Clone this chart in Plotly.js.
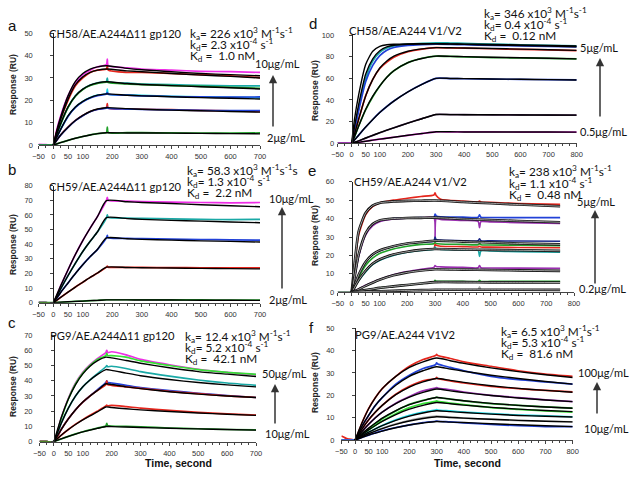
<!DOCTYPE html>
<html><head><meta charset="utf-8">
<script src="https://cdn.plot.ly/plotly-3.0.1.min.js"></script>
<style>html,body{margin:0;padding:0;background:#fff}#chart{width:629px;height:478px}</style>
</head><body><div id="chart"></div>
<script>
// ---------- Panel a : CH58 / AE.A244Δ11 gp120 ----------
const a_t  = [-50,-25,0,10,25,50,75,100,125,150,180,183,186,250,300,400,500,600,700];
const a_magenta = [0.3,0.2,0,6,13,22,28,31.5,33.5,35,36,38.5,35.5,34.5,34,33.5,33,32.8,32.5];
const a_red     = [0,0,0,5,11.5,20,26.5,30,32.5,33.5,34,35.5,33.5,32.5,32.5,32,31.5,31,30.2];
const a_teal    = [0,0,0,4,9.5,17,22,25,26.8,27.8,28.5,30,28.2,27.7,27.3,27,26.7,26.5,26.5];
const a_green   = [0,0,0,4,9.3,16.8,21.8,24.8,26.6,27.6,28.2,28.5,28,27.3,27,26.6,26.2,25.8,25.4];
const a_cyan    = [0,0,0,3,7,13,17,19.5,21.2,22.3,23,25,22.8,22.4,22.2,21.8,21.5,21.3,21.2];
const a_blue    = [0,0,0,3,7,12.8,16.8,19.3,21,22.1,22.8,23.5,22.7,22.3,22,21.7,21.5,21.4,21.5];
const a_red2    = [0,0,0,1.8,4.5,8,11,13.2,15,16,16.8,18.5,16.5,16.2,16,15.8,15.5,15.3,15];
const a_blue2   = [0,0,0,1.8,4.4,7.9,10.9,13.1,14.9,15.9,16.6,17,16.4,16.1,15.9,15.7,15.5,15.4,15.4];
const a_green2  = [0,0,0,0.4,1.1,2.1,3,3.8,4.5,5.1,5.6,8,5.6,5.5,5.5,5.4,5.3,5.3,5.4];
const a_tf = [0,10,25,50,75,100,125,150,180,250,300,400,500,600,700];
const a_f1 = [0,5.5,12.5,22,28.5,32,34,35,35.5,34.3,33.7,32.8,32,31.5,31];
const a_f2 = [0,5,11.5,20.5,27,30.5,32.5,33.5,34,33.2,32.8,32,31.3,30.7,30];
const a_f3 = [0,4,9.5,17,22,25,26.8,27.8,28.3,27.5,27.1,26.6,26.1,25.6,25.1];
const a_f4 = [0,3,7,13,17,19.5,21.2,22.3,22.9,22.3,22,21.6,21.2,20.9,20.6];
const a_f5 = [0,1.8,4.5,8,11,13.3,15,16.1,16.7,16.3,16,15.6,15.3,15,14.7];
const a_f6 = [0,0.4,1.1,2.1,3,3.8,4.5,5.1,5.5,5.4,5.4,5.3,5.2,5.1,5.0];

// ---------- Panel b : CH59 / AE.A244Δ11 gp120 ----------
const b_t = [-50,-25,0,25,50,75,100,125,150,180,183,186,250,300,400,500,600,700];
const b_magenta = [0,0,0,11.5,22.5,33,42.5,51,59,70,72,70,69.5,69.2,68.8,68.5,68.3,68.5];
const b_teal    = [0,0,0,9.5,18.5,27,35,42,48.5,58,60,58.3,57.8,57.6,57.3,57,56.8,57];
const b_blue    = [0,0,0,7,13.5,20,26,31.5,36.5,44.3,46,44.3,44,43.8,43.5,43.2,43,42.8];
const b_red     = [0,0,0,3.6,7.2,10.7,14,17.3,20.3,24.3,25,24.3,24.2,24.1,24,23.9,23.8,23.8];
const b_green   = [0,0,0,0.3,0.6,0.9,1.1,1.4,1.6,2,2,2,2,2,1.9,1.9,1.8,1.8];
const b_tf = [0,25,50,75,100,125,150,180,250,300,400,500,600,700];
const b_f1 = [0,11.5,22.5,33,42.5,51,59,69.8,69,68.5,67.8,67,66.3,65.6];
const b_f2 = [0,9.5,18.5,27,35,42,48.5,58.2,57.5,57,56.3,55.8,55.2,54.7];
const b_f3 = [0,7,13.5,20,26,31.5,36.5,44.3,43.7,43.3,42.8,42.3,41.9,41.5];
const b_f4 = [0,3.6,7.2,10.7,14,17.3,20.3,24.3,24.1,23.9,23.7,23.5,23.3,23.1];
const b_f5 = [0,0.3,0.6,0.9,1.1,1.4,1.6,1.9,1.9,1.8,1.8,1.7,1.7,1.6];

// ---------- Panel c : PG9 / AE.A244Δ11 gp120 ----------
const c_t = [-50,-25,0,25,50,75,100,125,150,180,183,186,200,250,300,400,500,600,700];
const c_magenta = [0,0,0,15.5,28.5,38.5,45.5,50.5,54.5,58.5,60,58.5,59,57,54,50.5,47.5,45.5,44];
const c_green   = [0,0,0,15,28,38,45,50,54,56.5,58,56.5,56.5,55.5,53,50,47.3,45.5,44.2];
const c_teal    = [0,0,0,12,22,30,36,40.5,44.5,49.2,50,49.2,49.5,48,46,43,40.5,38.5,37];
const c_blue    = [0,0,0,8,15,21,26,30,34,38.8,40,38.8,38.5,37,35.5,33.5,31.8,30.3,29];
const c_red     = [0,0,0,8,15,21,26,30,33.5,37.5,40,37.5,37,36,35,33,31.5,30,29];
const c_red2    = [0,0,0,4.2,8,11.5,14.5,17.3,20,23.4,24,23.5,23.8,23,22,20.5,19.3,18.3,17.5];
const c_green2  = [0,0,0,1.8,3.5,5.1,6.5,7.8,8.9,10.3,12,10.5,10.3,10,9.7,9,8.5,8,7.7];
const c_tf = [0,25,50,75,100,125,150,180,200,250,300,400,500,600,700];
const c_f1 = [0,15.5,28,37.5,44.5,49.5,53,55.5,55,53.3,51.5,48.5,46,44.3,42.8];
const c_f2 = [0,12,22,30,36,40.5,44,47.3,46.8,45,43.3,40.8,38.8,37.3,36];
const c_f3 = [0,8,15,21,26,30,33.5,38,37.5,36,34.8,32.8,31.2,30,29];
const c_f4 = [0,4.2,8,11.3,14.3,17,19.5,22.8,22.4,21.6,20.9,19.8,18.8,18,17.3];
const c_f5 = [0,1.8,3.5,5,6.4,7.6,8.7,10,9.9,9.6,9.3,8.8,8.4,8,7.6];

// ---------- Panel d : CH58 / AE.A244 V1/V2 ----------
const d_t = [-50,-25,0,10,25,50,75,100,125,150,200,250,300,350,400,500,600,700,800];
const d_teal   = [0,0,0,13,33,60,76,84,88,90,91.5,92.3,92.8,92.6,92.3,91.6,91,90.5,90];
const d_blue   = [0,0,0,11,30,57,72,81,86,88.5,90.5,91.2,91.5,91.3,91,90.5,90,89.5,89];
const d_red    = [0,0,0,8,22,44,59,69,75,79.5,84.5,87,88.3,88,87.8,87.3,86.7,86.2,85.6];
const d_green  = [0,0,0,6,16,31,43,53,61,67,74.5,78.5,80.5,80.2,79.8,79.2,78.8,78.4,78];
const d_blue2  = [0,0,0,3,7.5,15,22,28.5,34,39,47.5,54.5,60,59.8,59.6,59.3,59,58.8,58.5];
const d_dark   = [0,0,0,0.8,2.2,4.8,7.3,9.8,12,14.3,18.7,22.8,26.6,26.5,26.4,26.3,26.2,26.1,26];
const d_magenta= [0,0,0,0.3,0.9,1.9,2.9,3.8,4.7,5.6,7.4,9,10.6,10.6,10.5,10.5,10.4,10.4,10.3];
const d_tf = [0,10,25,50,75,100,125,150,200,250,300,350,400,500,600,700,800];
const d_f1 = [0,22,45,73,85,89.5,91,91.5,91.8,91.9,92,91.8,91.6,91.2,90.8,90.4,90];
const d_f2 = [0,15,36,64,78,85.5,89,90.5,91.5,91.7,91.8,91.6,91.3,90.8,90.2,89.7,89.2];
const d_f3 = [0,8.5,22.5,44,59,69.5,76,80.5,85,87.2,88.3,88.2,88,87.5,87,86.4,85.8];
const d_f4 = [0,6,16,31.5,43.5,53,61,67,74.5,78.3,80.5,80.3,80,79.5,79,78.5,78];
const d_f5 = [0,3,7.5,15,22,28.5,34,39,47.5,54.5,60,59.9,59.7,59.4,59.1,58.8,58.5];
const d_f6 = [0,0.9,2.3,4.9,7.4,9.8,12.1,14.3,18.6,22.7,26.6,26.5,26.4,26.3,26.2,26.1,26];
const d_f7 = [0,0.35,0.9,1.9,2.9,3.8,4.7,5.6,7.4,9,10.6,10.6,10.5,10.5,10.4,10.4,10.3];

// ---------- Panel e : CH59 / AE.A244 V1/V2 ----------
const e_t = [-50,-25,0,10,25,50,75,100,150,200,250,296,300,304,320,400,455,460,465,500,600,750];
const e_red     = [0,0,0,14,31,42,46.5,48.5,50,51,52,52.8,54,52.5,50.5,49.5,49,49.5,49,48.8,48.2,47.7];
const e_blue    = [0,0,0,8,20,31.5,36.5,38.5,40,40.3,40.5,40.5,42.5,41.5,41,40.8,40.7,42,40.7,40.6,40.5,40.5];
const e_purple  = [0,0,0,7.5,19.5,31,36,38.3,39.8,40.2,40.4,40.3,29,40,39.5,39,38.5,35,38.3,38.2,37.8,37.4];
const e_navy    = [0,0,0,3.5,9,16.5,20.5,22.5,25,26.5,27.3,27.8,30,28.5,28.3,28,28,29,28,27.9,27.8,27.7];
const e_green   = [0,0,0,3,8,14.5,18.5,21,23.5,25,26,26.3,27,26.5,26.2,26,25.8,26.5,25.8,25.7,25.5,25.3];
const e_red2    = [0,0,0,2.5,6.5,11.5,15.5,17.8,20.5,22,23,23.5,26,25.5,25,24.8,24.6,25,24.6,24.5,24.3,24.2];
const e_cyan    = [0,0,0,2.5,6.2,11,15,17.3,20,21.7,22.7,23.3,24.5,23.5,23.3,23,22.8,19.5,22.5,22.4,22,21.8];
const e_purple2 = [0,0,0,0.6,1.8,3.8,5.5,7,9.5,11.2,12.5,13.5,14.5,14,13.8,13.5,13.3,14.5,13.3,13.2,13.1,13];
const e_green2  = [0,0,0,0.2,0.6,1.2,1.8,2.4,3.2,4,4.8,5.5,6.5,6,6,5.9,5.9,6.5,5.9,5.9,5.9,5.9];
const e_low     = [0,0,0,0.1,0.2,0.4,0.5,0.6,0.8,1,1.2,1.4,1.4,1.4,1.4,1.4,1.4,3,1.4,1.4,1.4,1.4];
const e_tf = [0,10,25,50,75,100,150,200,250,300,400,500,600,750];
const e_f1 = [0,15,33,43,47,48.5,49.3,49.6,49.7,49.8,49,48.3,47.6,46.7];
const e_f2 = [0,8,20.5,32,37,39,40,40.3,40.4,40.5,39.8,39.2,38.7,38];
const e_f3 = [0,3.5,9.5,16.5,20.5,22.7,25,26.5,27.3,28,27.5,27,26.5,26];
const e_f4 = [0,2.6,6.6,11.7,15.5,17.8,20.5,22,23,23.5,23.2,23,22.8,22.5];
const e_f5 = [0,0.6,1.6,3.5,5.2,6.8,9.2,10.8,11.8,12.5,12.3,12.1,11.9,11.6];
const e_f6 = [0,0.2,0.6,1.2,1.8,2.4,3.2,4,4.8,5.5,5.5,5.4,5.4,5.3];
const e_f7 = [0,0.1,0.2,0.4,0.5,0.6,0.8,1,1.2,1.4,1.4,1.4,1.4,1.3];

// ---------- Panel f : PG9 / AE.A244 V1V2 ----------
const f_t = [-50,-40,-30,-20,-10,0,25,50,75,100,150,200,250,296,300,304,350,400,500,600,700,800];
const f_red    = [1.8,1.2,0.6,0.4,0.2,0,7.5,14,19,23,28.5,33,36,37.8,38.3,37.8,36.5,35,33,31,29.5,28.5];
const f_blue   = [0,0,0,0,0,0,6,11,15.5,19,25,29,32,33.7,34.5,34,32.5,31,28.5,27,26,25];
const f_red2   = [0,0,0,0,0,0,4.8,9,12.5,15.5,20.5,24,26.5,27.5,28,27.5,26.5,25.5,24,23,22.2,21.5];
const f_purple = [0,0,0,0,0,0,3.7,7,10,12.5,16.5,19.5,22,23.3,23.5,23.3,22.5,21.5,20,19,18,17.2];
const f_green  = [0,0,0,0,0,0,2.6,5,7.3,9.5,13,16,17.8,19,19.2,19,18.3,17.5,16.3,15.5,14.8,14.3];
const f_lgreen = [0,0,0,0,0,0,2.3,4.5,6.6,8.5,11.8,14.5,16.3,17.3,17.5,17.3,16.5,15.8,14.5,13.7,13,12.5];
const f_cyan   = [0,0,0,0,0,0,1.8,3.5,5,6.5,9,11,12.5,13.4,13.6,13.4,13,12.5,11.8,11.2,10.8,10.4];
const f_grey   = [0,0,0,0,0,0,1.4,2.8,4,5.2,7.2,8.8,10,10.7,10.8,10.7,10.3,9.8,9.2,8.7,8.4,8.1];
const f_navy   = [0,0,0,0,0,0,1.1,2.2,3.2,4.1,5.6,6.8,7.8,8.4,8.5,8.4,8.1,7.7,7,6.4,6,6];
const f_tf = [0,25,50,75,100,150,200,250,300,350,400,500,600,700,800];
const f_f1 = [0,7.5,14,19,23,28.5,32.5,35,36.7,35.5,34.3,32.3,30.6,29.2,28];
const f_f2 = [0,6,11,15.5,19,24.5,28.5,31,32.8,31.8,30.8,29,27.5,26.2,25];
const f_f3 = [0,4.8,9,12.5,15.5,20.3,23.7,26,27.5,26.7,25.8,24.3,23.1,22.2,21.4];
const f_f4 = [0,3.7,7,10,12.5,16.3,19.2,21.3,22.8,22,21.2,19.9,18.8,17.9,17.2];
const f_f5 = [0,2.8,5.3,7.6,9.8,13.2,15.8,17.6,19,18.3,17.6,16.4,15.5,14.8,14.2];
const f_f6 = [0,2.3,4.5,6.5,8.3,11.4,13.8,15.5,16.8,16.2,15.6,14.6,13.8,13.2,12.7];
const f_f7 = [0,1.8,3.5,5,6.4,8.8,10.7,12.1,13.1,12.7,12.3,11.6,11,10.6,10.3];
const f_f8 = [0,1.4,2.8,4,5.1,7,8.5,9.6,10.4,10.1,9.8,9.3,8.8,8.4,8.1];
const f_f9 = [0,1.1,2.2,3.1,4,5.5,6.7,7.6,8.3,8,7.8,7.3,6.8,6.4,6];

const ticks700 = [-50,0,50,100,200,300,400,500,600,700];
const ticks800 = [-50,0,50,100,200,300,400,500,600,700,800];

// colours
const C = {mag:'#ee2ee6', red:'#e5261d', teal:'#1aa9a6', green:'#21a12a', cyan:'#1fd6e3',
  blue:'#2141d8', navy:'#1d2a8a', purple:'#9a2fb0', lgreen:'#35e035', grey:'#aaaaaa', dark:'#4a2457'};

const traces = [];
function ln(ax, t, y, color, w){
  traces.push({type:'scatter', mode:'lines', x:t, y:y, xaxis:'x'+ax, yaxis:'y'+ax,
    line:{color:color, width:w, shape:'spline', smoothing:0.6}, hoverinfo:'skip'});
}
function fit(ax, t, y){ ln(ax, t, y, '#000', 1.4); }
function fit2(ax, t, y){ ln(ax, t, y, '#111', 2.6); ln(ax, t, y, '#dddddd', 0.7); }

// a
[[a_magenta,C.mag],[a_red,C.red],[a_teal,C.teal],[a_green,C.green],[a_cyan,C.cyan],[a_blue,C.blue],
 [a_red2,C.red],[a_blue2,C.blue],[a_green2,C.green]].forEach(s=>ln('',a_t,s[0],s[1],1.7));
[a_f1,a_f2,a_f3,a_f4,a_f5,a_f6].forEach(f=>fit('',a_tf,f));
// b
[[b_magenta,C.mag],[b_teal,C.teal],[b_blue,C.blue],[b_red,C.red],[b_green,C.green]].forEach(s=>ln('2',b_t,s[0],s[1],1.7));
[b_f1,b_f2,b_f3,b_f4,b_f5].forEach(f=>fit('2',b_tf,f));
// c
[[c_magenta,C.mag],[c_green,C.lgreen],[c_teal,C.teal],[c_blue,C.blue],[c_red,C.red],[c_red2,C.red],[c_green2,C.green]].forEach(s=>ln('3',c_t,s[0],s[1],1.7));
[c_f1,c_f2,c_f3,c_f4,c_f5].forEach(f=>fit('3',c_tf,f));
// d
[[d_teal,C.teal],[d_blue,C.blue],[d_red,C.red],[d_green,C.green],[d_blue2,C.blue],[d_dark,C.dark],[d_magenta,C.mag]].forEach(s=>ln('4',d_t,s[0],s[1],1.7));
[d_f1,d_f2,d_f3,d_f4,d_f5,d_f6,d_f7].forEach(f=>fit('4',d_tf,f));
// e
[[e_red,C.red],[e_blue,C.blue],[e_purple,C.purple],[e_navy,C.navy],[e_green,C.green],[e_red2,C.red],[e_cyan,C.teal],
 [e_purple2,C.purple],[e_green2,C.green],[e_low,C.grey]].forEach(s=>ln('5',e_t,s[0],s[1],1.6));
[e_f1,e_f2,e_f3,e_f4,e_f5,e_f6,e_f7].forEach(f=>fit2('5',e_tf,f));
// f
[[f_red,C.red],[f_blue,C.blue],[f_red2,C.red],[f_purple,C.purple],[f_green,C.green],[f_lgreen,C.lgreen],
 [f_cyan,C.cyan],[f_grey,C.grey],[f_navy,C.blue]].forEach(s=>ln('6',f_t,s[0],s[1],1.7));
[f_f1,f_f2,f_f3,f_f4,f_f5,f_f6,f_f7,f_f8,f_f9].forEach(f=>fit('6',f_tf,f));

// ---------- layout ----------
const W=629, H=478;
const PX = x => x/W, PY = y => 1 - y/H;
const tickFont = {family:'"Liberation Sans", Arial, sans-serif', size:7.5, color:'#333'};
function xAx(x0, x1, max, anchor){
  return {domain:[PX(x0), PX(x1)], range:[-50, max], anchor:anchor, tickmode:'array',
    tickvals: max===700 ? ticks700 : ticks800, ticks:'outside', ticklen:3, tickcolor:'#444', tickangle:0,
    minor:{tickmode:'linear', tick0:-50, dtick:25, ticks:'outside', ticklen:2, tickcolor:'#444'},
    showline:true, linecolor:'#444', linewidth:1, showgrid:false, zeroline:false,
    tickfont:tickFont, ticklabelstandoff:1, fixedrange:true};
}
function yAx(yb, yt, max, dt, pos, stand){
  return {domain:[PY(yb), PY(yt)], range:[0, max], anchor:'free', position:PX(pos), dtick:dt,
    ticks:'outside', ticklen:3, tickcolor:'#444', showline:true, linecolor:'#222', linewidth:1,
    showgrid:false, zeroline:false, tickfont:tickFont, ticklabelstandoff:stand, fixedrange:true};
}

const ann = [];
const calib = '"Lato", "Open Sans", "Liberation Sans", sans-serif';
function txt(x, y, s, size, opts){
  ann.push(Object.assign({xref:'paper', yref:'paper', x:PX(x), y:PY(y), text:s, showarrow:false,
    xanchor:'left', yanchor:'middle', font:{family:calib, size:size, color:'#111'}}, opts||{}));
}
function arrow(x, yTail, yHead){
  ann.push({xref:'paper', yref:'paper', x:PX(x), y:PY(yHead), ax:0, ay:yTail-yHead, text:'',
    showarrow:true, arrowhead:2, arrowsize:1.1, arrowwidth:1.5, arrowcolor:'#333'});
}
function kin(x, y0, ka, kd, Kd, extra){
  txt(x, y0, 'k<sub>a</sub>= '+ka+' x10<sup>3</sup> M<sup>-1</sup>s<sup>-1</sup>'+(extra||''), 11.8);
  txt(x, y0+11.7, 'k<sub>d</sub>= '+kd+' x10<sup>-4</sup> s<sup>-1</sup>', 11.8);
  txt(x, y0+23.4, 'K<sub>d</sub> =  '+Kd+' nM', 11.8);
}
const yTitleFont = {family:'"Liberation Sans", Arial, sans-serif', size:8.5, color:'#222'};
function ytitle(x, y){
  ann.push({xref:'paper', yref:'paper', x:PX(x), y:PY(y), text:'<b>Response (RU)</b>', textangle:-90,
    showarrow:false, xanchor:'center', yanchor:'middle', font:yTitleFont});
}
function letter(x, y, s){ txt(x, y, s, 15, {xanchor:'center', font:{family:'"Liberation Sans", Arial, sans-serif', size:15, color:'#111'}}); }

// panel letters
letter(12,25,'a'); letter(313,23,'d'); letter(12,169,'b'); letter(312,170,'e'); letter(12,322,'c'); letter(311,327,'f');
// titles
const TS = 11.2;
txt(47,33,'CH58/AE.A244Δ11 gp120',TS);
txt(347,30,'CH58/AE.A244 V1/V2',TS);
txt(47,186,'CH59/AE.A244Δ11 gp120',TS);
txt(352,182,'CH59/AE.A244 V1/V2',TS);
txt(48,335,'PG9/AE.A244Δ11 gp120',TS);
txt(353,334,'PG9/AE.A244 V1V2',TS);
// kinetics
kin(188,33,'226','2.3','1.0');
kin(482,13,'346','0.4','0.12');
kin(185,170,'58.3','1.3','2.2','s');
kin(507,172,'238','1.1','0.48');
kin(183,336,'12.4','5.2','42.1');
kin(499,331,'6.5','5.3','81.6');
// concentrations + arrows
txt(253,63,'10μg/mL',11); txt(265,137,'2μg/mL',11); arrow(273,128,75);
txt(267,198,'10μg/mL',11); txt(267,299,'2μg/mL',11); arrow(282,290,207);
txt(260,373,'50μg/mL',11); txt(263,433,'10μg/mL',11); arrow(275,425,384);
txt(578,47,'5μg/mL',11); txt(578,132,'0.5μg/mL',11); arrow(600,118,58);
txt(575,202,'5μg/mL',11); txt(577,288,'0.2μg/mL',11); arrow(595,285,210);
txt(576,372,'100μg/mL',11); txt(582,428,'10μg/mL',11); arrow(597,415,382);
// axis titles
ytitle(13,85); ytitle(13,245); ytitle(13,387); ytitle(315,90); ytitle(315,235); ytitle(315,382);
ann.push({xref:'paper', yref:'paper', x:PX(178), y:PY(463), text:'<b>Time, second</b>', showarrow:false,
  xanchor:'center', yanchor:'middle', font:{family:'"Liberation Sans", Arial, sans-serif', size:10.5, color:'#111'}});
ann.push({xref:'paper', yref:'paper', x:PX(467), y:PY(463), text:'<b>Time, second</b>', showarrow:false,
  xanchor:'center', yanchor:'middle', font:{family:'"Liberation Sans", Arial, sans-serif', size:10.5, color:'#111'}});

const layout = {
  width:W, height:H, margin:{l:0,r:0,t:0,b:0}, paper_bgcolor:'#fff', plot_bgcolor:'rgba(0,0,0,0)',
  showlegend:false, annotations:ann,
  xaxis:  xAx(38.5,260,700,'y'),   yaxis:  yAx(145,33.3,50,10,53.3,16),
  xaxis2: xAx(38.5,260,700,'y2'),  yaxis2: yAx(302.7,185.7,80,10,53.3,16),
  xaxis3: xAx(39.5,256,700,'y3'),  yaxis3: yAx(441.7,335,70,10,54,17),
  xaxis4: xAx(337.6,576.7,800,'y4'), yaxis4: yAx(143.3,35,100,20,351.7,13),
  xaxis5: xAx(337.8,574,800,'y5'), yaxis5: yAx(292.3,181.7,60,10,351.7,13),
  xaxis6: xAx(341.4,572.7,800,'y6'), yaxis6: yAx(440,328.3,50,10,355,16)
};
Plotly.newPlot('chart', traces, layout, {staticPlot:true, displayModeBar:false});
</script></body></html>
